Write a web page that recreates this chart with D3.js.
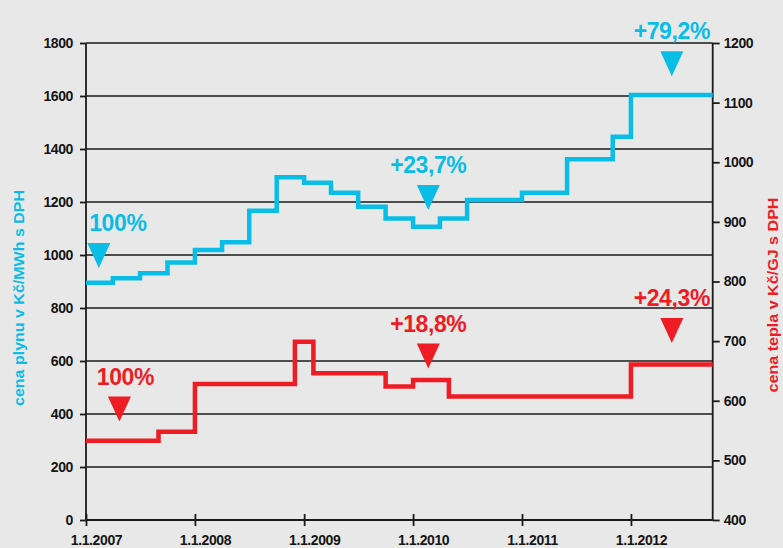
<html>
<head>
<meta charset="utf-8">
<script src="https://d3js.org/d3.v7.min.js"></script>
<style>
  body { margin: 0; background: #e8e8e8; }
  svg { display: block; }
  text { font-family: "Liberation Sans", Arial, sans-serif; font-weight: bold; }
  .axis text { font-size: 14px; fill: #151515; letter-spacing: -0.4px; }
  .axis line, .axis path { stroke: #1a1a1a; stroke-width: 1.8; }
</style>
</head>
<body>
<div id="chart"></div>
<script>
// cena plynu (Kč/MWh s DPH) - left axis
var gasDates = ["2007-01-01","2007-04-01","2007-07-01","2007-10-01","2008-01-01","2008-04-01","2008-07-01","2008-10-01",
                "2009-01-01","2009-04-01","2009-07-01","2009-10-01","2010-01-01","2010-04-01","2010-07-01","2011-01-01",
                "2011-06-01","2011-11-01","2012-01-01"];
var gasValues = [895, 912, 931, 972, 1019, 1048, 1167, 1293, 1273, 1235, 1182, 1138, 1107, 1138, 1208, 1235, 1361, 1446, 1604];

// cena tepla (Kč/GJ s DPH) - right axis
var heatDates = ["2007-01-01","2007-09-01","2008-01-01","2008-12-01","2009-02-01","2009-10-01","2010-01-01","2010-05-01","2012-01-01"];
var heatValues = [533, 548, 628, 699, 646, 624, 635, 607, 661];

var endDate = "2012-10-01";

// tick labels
var leftTicks = [0, 200, 400, 600, 800, 1000, 1200, 1400, 1600, 1800];
var rightTicks = [400, 500, 600, 700, 800, 900, 1000, 1100, 1200];
var yearTicks = [2007, 2008, 2009, 2010, 2011, 2012];

// percentage markers: date of triangle, value at triangle tip, label
var gasMarkDates = ["2007-02-13", "2010-02-21", "2012-05-17"];
var gasMarkValues = [951, 1170, 1675];
var gasMarkLabels = ["100%", "+23,7%", "+79,2%"];
var heatMarkDates = ["2007-04-23", "2010-02-21", "2012-05-17"];
var heatMarkValues = [565, 654, 697];
var heatMarkLabels = ["100%", "+18,8%", "+24,3%"];

var blue = "#0abde6", red = "#ee1c25";
var width = 783, height = 548;
var plotLeft = 86, plotRight = 712.7, plotTop = 43, plotBottom = 520;

var parse = d3.timeParse("%Y-%m-%d");

var svg = d3.select("#chart").append("svg")
  .attr("width", width).attr("height", height);

svg.append("rect").attr("width", width).attr("height", height).attr("fill", "#e8e8e8");

var x = d3.scaleTime().domain([parse("2007-01-01"), parse(endDate)]).range([plotLeft, plotRight]);
var yLeft = d3.scaleLinear().domain([0, 1800]).range([plotBottom, plotTop]);
var yRight = d3.scaleLinear().domain([400, 1200]).range([plotBottom, plotTop]);

// gridlines
svg.append("g").selectAll("line").data(leftTicks).enter().append("line")
  .attr("x1", plotLeft).attr("x2", plotRight)
  .attr("y1", function(d){ return yLeft(d); })
  .attr("y2", function(d){ return yLeft(d); })
  .attr("stroke", "#1a1a1a").attr("stroke-width", 1.6);

// axes
var axL = svg.append("g").attr("class", "axis").attr("transform", "translate(" + plotLeft + ",0)")
  .call(d3.axisLeft(yLeft).tickValues(leftTicks).tickSize(6).tickPadding(7).tickFormat(d3.format("d")));
var axR = svg.append("g").attr("class", "axis").attr("transform", "translate(" + plotRight + ",0)")
  .call(d3.axisRight(yRight).tickValues(rightTicks).tickSize(7).tickPadding(4).tickFormat(d3.format("d")));
axL.select(".domain").attr("d", "M0," + plotTop + "V" + plotBottom);
axR.select(".domain").attr("d", "M0," + plotTop + "V" + plotBottom);

var axB = svg.append("g").attr("class", "axis").attr("transform", "translate(0," + plotBottom + ")")
  .call(d3.axisBottom(x).tickValues(yearTicks.map(function(y){ return new Date(y, 0, 1); }))
    .tickFormat(function(d){ return "1.1." + d.getFullYear(); }));
axB.select(".domain").attr("d", "M" + plotLeft + ",0H" + plotRight);
axB.selectAll(".tick line").attr("y1", -6).attr("y2", 6);
axB.selectAll(".tick text").attr("y", 25).attr("dy", 0).attr("dx", 10);
svg.selectAll(".axis text").attr("fill", "#151515");

// step lines
function series(dates, values) {
  var pts = dates.map(function(d, i){ return [parse(d), values[i]]; });
  pts.push([parse(endDate), values[values.length - 1]]);
  return pts;
}
function drawLine(pts, y, color) {
  var line = d3.line().curve(d3.curveStepAfter)
    .x(function(d){ return x(d[0]); })
    .y(function(d){ return y(d[1]); });
  svg.append("path").datum(pts).attr("d", line)
    .attr("fill", "none").attr("stroke", color).attr("stroke-width", 4.5)
    .attr("stroke-linejoin", "miter").attr("stroke-linecap", "butt");
}
drawLine(series(gasDates, gasValues), yLeft, blue);
drawLine(series(heatDates, heatValues), yRight, red);

// markers
function drawMarks(dates, values, labels, y, color, firstDx) {
  dates.forEach(function(d, i){
    var cx = x(parse(d)), tip = y(values[i]);
    var tw = 11.5, th = 25;
    svg.append("path")
      .attr("d", "M" + (cx - tw) + "," + (tip - th) + "L" + (cx + tw) + "," + (tip - th) + "L" + cx + "," + tip + "Z")
      .attr("fill", color);
    svg.append("text")
      .attr("x", cx + (i === 0 ? firstDx : 0))
      .attr("y", tip - th - 12)
      .attr("text-anchor", "middle")
      .attr("fill", color)
      .style("font-size", "23px")
      .style("letter-spacing", "-0.4px")
      .text(labels[i]);
  });
}
drawMarks(gasMarkDates, gasMarkValues, gasMarkLabels, yLeft, blue, 19);
drawMarks(heatMarkDates, heatMarkValues, heatMarkLabels, yRight, red, 6);

// axis titles
svg.append("text")
  .attr("transform", "translate(24,298) rotate(-90)")
  .attr("text-anchor", "middle")
  .attr("fill", blue)
  .style("font-size", "14px")
  .attr("textLength", 216).attr("lengthAdjust", "spacingAndGlyphs")
  .text("cena plynu v Kč/MWh s DPH");

svg.append("text")
  .attr("transform", "translate(778,295) rotate(-90)")
  .attr("text-anchor", "middle")
  .attr("fill", red)
  .style("font-size", "15px")
  .attr("textLength", 195).attr("lengthAdjust", "spacingAndGlyphs")
  .text("cena tepla v Kč/GJ s DPH");
</script>
</body>
</html>
